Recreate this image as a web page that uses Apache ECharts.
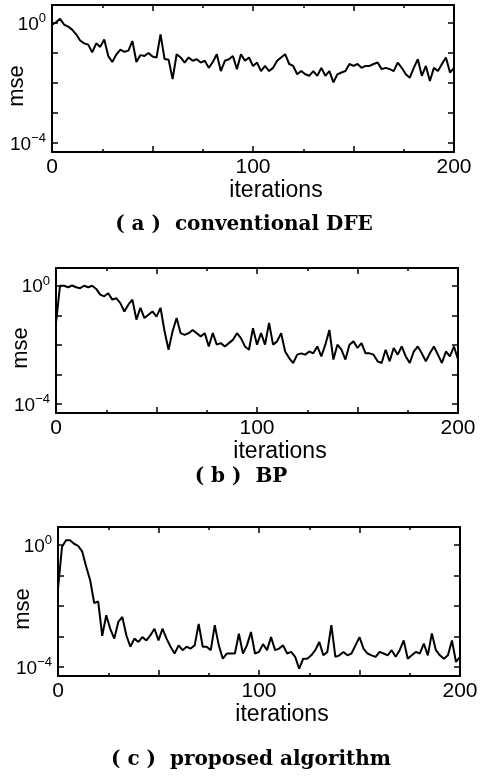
<!DOCTYPE html>
<html><head><meta charset="utf-8">
<script src="https://cdn.jsdelivr.net/npm/echarts@6/dist/echarts.min.js"></script>
<style>html,body{margin:0;padding:0;background:#fff}#c{width:483px;height:780px}</style>
</head><body><div id="c"></div>
<script>
const iterations = [0,2,4,6,8,10,12,14,16,18,20,22,24,26,28,30,32,34,36,38,40,42,44,46,48,50,52,54,56,58,60,62,64,66,68,70,72,74,76,78,80,82,84,86,88,90,92,94,96,98,100,102,104,106,108,110,112,114,116,118,120,122,124,126,128,130,132,134,136,138,140,142,144,146,148,150,152,154,156,158,160,162,164,166,168,170,172,174,176,178,180,182,184,186,188,190,192,194,196,198,200];

const mseConventionalDFE = [
 0.89, 1.05, 1.38, 0.89, 0.76, 0.60, 0.42, 0.26, 0.21, 0.19,
 0.105, 0.21, 0.16, 0.28, 0.079, 0.05, 0.089, 0.13, 0.11, 0.12,
 0.25, 0.05, 0.085, 0.079, 0.10, 0.076, 0.071, 0.42, 0.063, 0.06,
 0.0135, 0.091, 0.071, 0.048, 0.071, 0.055, 0.062, 0.048, 0.055, 0.032,
 0.05, 0.091, 0.025, 0.055, 0.062, 0.079, 0.029, 0.091, 0.055, 0.071,
 0.037, 0.048, 0.025, 0.037, 0.025, 0.032, 0.055, 0.071, 0.091, 0.043,
 0.037, 0.0195, 0.025, 0.0195, 0.0174, 0.025, 0.0174, 0.032, 0.0174, 0.025,
 0.0105, 0.0195, 0.0224, 0.025, 0.043, 0.037, 0.043, 0.032, 0.037, 0.037,
 0.043, 0.048, 0.029, 0.032, 0.029, 0.025, 0.048, 0.032, 0.0195, 0.015,
 0.032, 0.062, 0.0174, 0.037, 0.0117, 0.032, 0.025, 0.043, 0.071, 0.0224,
 0.032];

const mseBP = [
 0.056, 1.0, 1.0, 0.89, 1.02, 0.89, 0.83, 1.0, 0.89, 1.0,
 0.78, 0.50, 0.44, 0.56, 0.34, 0.38, 0.26, 0.135, 0.23, 0.34,
 0.072, 0.18, 0.081, 0.105, 0.135, 0.091, 0.18, 0.029, 0.0069, 0.029,
 0.081, 0.025, 0.022, 0.025, 0.032, 0.025, 0.0195, 0.025, 0.0089, 0.025,
 0.0102, 0.0115, 0.0089, 0.0115, 0.0148, 0.025, 0.017, 0.0089, 0.0069, 0.037,
 0.0102, 0.025, 0.0102, 0.055, 0.0102, 0.0132, 0.025, 0.006, 0.0036, 0.00245,
 0.0047, 0.0052, 0.0047, 0.006, 0.0052, 0.0089, 0.0041, 0.0102, 0.032, 0.0032,
 0.0102, 0.0069, 0.0032, 0.0102, 0.0132, 0.0079, 0.0115, 0.0052, 0.0052, 0.0047,
 0.0028, 0.00245, 0.0069, 0.0028, 0.0079, 0.0047, 0.0089, 0.0041, 0.00245, 0.006,
 0.0089, 0.0052, 0.0028, 0.0052, 0.0089, 0.0047, 0.00245, 0.006, 0.0041, 0.0089,
 0.0032];

const mseProposed = [
 0.037, 0.89, 1.45, 1.45, 1.12, 0.95, 0.63, 0.2, 0.071, 0.0126,
 0.0141, 0.00105, 0.005, 0.00178, 0.00085, 0.003, 0.0044, 0.0011, 0.00046, 0.00085,
 0.00066, 0.00095, 0.00074, 0.0011, 0.0018, 0.00074, 0.0018, 0.00085, 0.00046, 0.000275,
 0.00051, 0.000355, 0.00046, 0.0004, 0.00051, 0.0026, 0.00046, 0.00046, 0.000355, 0.00234,
 0.00051, 0.000186, 0.000275, 0.000275, 0.000275, 0.00123, 0.000275, 0.00051, 0.0014, 0.000275,
 0.00031, 0.00056, 0.000355, 0.00095, 0.000355, 0.0004, 0.00051, 0.000275, 0.00031, 0.000214,
 0.000087, 0.000186, 0.000186, 0.00024, 0.000355, 0.00066, 0.00024, 0.00031, 0.00234, 0.000214,
 0.00024, 0.00031, 0.00024, 0.000275, 0.00051, 0.00095, 0.0004, 0.000275, 0.00024, 0.000214,
 0.00031, 0.000275, 0.00024, 0.000355, 0.000214, 0.000355, 0.00074, 0.000186, 0.00024, 0.00031,
 0.000275, 0.00058, 0.00024, 0.00126, 0.000355, 0.00024, 0.000186, 0.00024, 0.00074, 0.000145,
 0.000214];

const xTickLabels = [0, 100, 200];
const yTickExponents = [0, -4];
const captions = ['( a )  conventional DFE', '( b )  BP', '( c )  proposed algorithm'];

const Y_MIN = 5.012e-5;  // 10^-4.3
const Y_MAX = 3.981;     // 10^0.6

const panels = [
  {grid: {left: 52, top: 5, width: 402, height: 147}, values: mseConventionalDFE, caption: captions[0], capX: 244, capY: 215},
  {grid: {left: 56, top: 268, width: 402, height: 145}, values: mseBP, caption: captions[1], capX: 241, capY: 467},
  {grid: {left: 58, top: 527, width: 402, height: 149}, values: mseProposed, caption: captions[2], capX: 251, capY: 750}
];

const black = '#000';
const sans = 'Liberation Sans';
const axisLine = {show: true, onZero: false, lineStyle: {color: black, width: 2}};
const tickStyle = {color: black, width: 1.5};

function xFormatter(v) { return xTickLabels.indexOf(v) >= 0 ? String(v) : ''; }
function yFormatter(v) {
  const e = Math.log10(v);
  const r = Math.round(e);
  if (Math.abs(e - r) > 1e-6 || yTickExponents.indexOf(r) < 0) return '';
  return '{b|10}{s|' + (r < 0 ? '\u2212' + (-r) : String(r)) + '}';
}

const grids = [], xAxes = [], yAxes = [], series = [], titles = [];
panels.forEach((p, i) => {
  grids.push(Object.assign({outerBoundsMode: 'none', containLabel: false}, p.grid));
  const xBase = {
    gridIndex: i, type: 'value', min: 0, max: 200, interval: 50,
    axisLine: axisLine,
    axisTick: {show: true, inside: true, length: 6, lineStyle: tickStyle},
    minorTick: {show: true, splitNumber: 2, length: 3, lineStyle: tickStyle},
    splitLine: {show: false}, minorSplitLine: {show: false}
  };
  xAxes.push(Object.assign({}, xBase, {
    position: 'bottom',
    axisLabel: {show: true, formatter: xFormatter, color: black, fontFamily: sans, fontSize: 21, margin: 5},
    name: 'iterations', nameLocation: 'middle', nameGap: 27, nameMoveOverlap: false,
    nameTextStyle: {color: black, fontFamily: sans, fontSize: 23, padding: [0, 0, 0, 46]}
  }));
  xAxes.push(Object.assign({}, xBase, {position: 'top', axisLabel: {show: false}}));
  const yBase = {
    gridIndex: i, type: 'log', logBase: 10, min: Y_MIN, max: Y_MAX,
    axisLine: axisLine,
    axisTick: {show: true, inside: true, length: 6, lineStyle: tickStyle},
    splitLine: {show: false}, minorTick: {show: false}
  };
  yAxes.push(Object.assign({}, yBase, {
    position: 'left',
    axisLabel: {
      show: true, formatter: yFormatter, margin: 6, showMinLabel: false, showMaxLabel: false,
      rich: {
        b: {fontFamily: sans, fontSize: 19, color: black, lineHeight: 22, verticalAlign: 'bottom'},
        s: {fontFamily: sans, fontSize: 13, color: black, lineHeight: 10, verticalAlign: 'top'}
      }
    },
    name: 'mse', nameLocation: 'middle', nameGap: 24, nameMoveOverlap: false,
    nameTextStyle: {color: black, fontFamily: sans, fontSize: 22, padding: [0, 15, 0, 0]}
  }));
  yAxes.push(Object.assign({}, yBase, {position: 'right', axisLabel: {show: false}}));
  series.push({
    type: 'line', xAxisIndex: 2 * i, yAxisIndex: 2 * i,
    data: iterations.map((x, k) => [x, p.values[k]]),
    showSymbol: false, symbol: 'none', silent: true,
    lineStyle: {color: black, width: 2}
  });
  titles.push({
    text: p.caption, left: p.capX, top: p.capY, textAlign: 'center', textVerticalAlign: 'top', padding: 0,
    textStyle: {fontFamily: 'DejaVu Serif', fontSize: 20, fontWeight: 'bold', color: black}
  });
});

const chart = echarts.init(document.getElementById('c'), null, {renderer: 'canvas'});
chart.setOption({
  animation: false,
  backgroundColor: '#fff',
  title: titles,
  grid: grids,
  xAxis: xAxes,
  yAxis: yAxes,
  series: series
});
</script>
</body></html>
